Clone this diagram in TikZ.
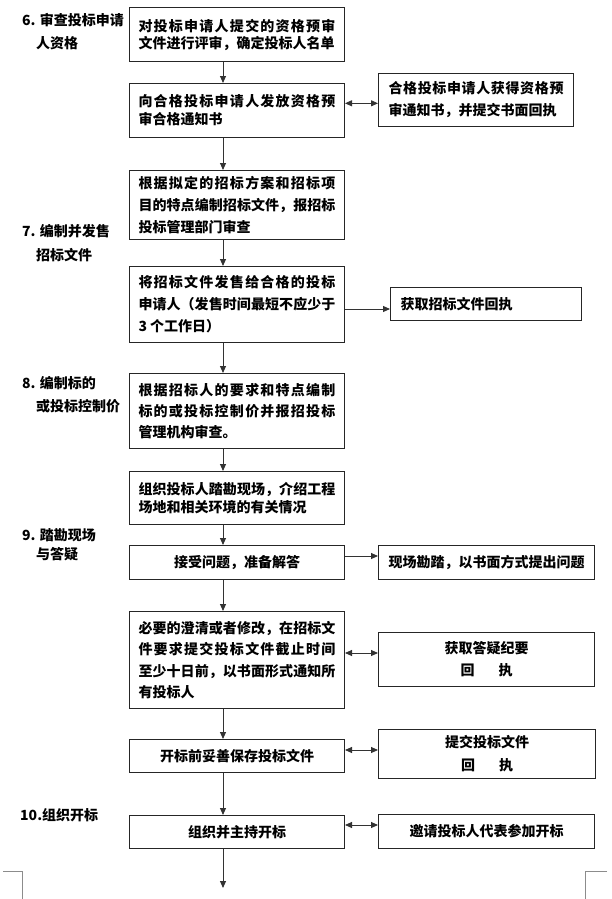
\documentclass[tikz,border=0pt]{standalone}
\usepackage{fontspec}
\setmainfont{Noto Sans CJK SC}
\usetikzlibrary{arrows.meta}
\XeTeXlinebreaklocale "zh"
\XeTeXlinebreakskip=0pt plus 3pt
\setlength\parindent{0pt}
\tikzset{
  mainbox/.style={draw=black!85, line width=1pt, anchor=north west, inner xsep=9pt, inner ysep=0pt,
    text width=197pt, align=justify, font=\bfseries\fontsize{14}{#1}\selectfont},
  mainbox/.default=21,
  mainc/.style={draw=black!85, line width=1pt, anchor=north west, inner sep=0pt,
    minimum width=215pt, align=center, font=\bfseries\fontsize{14}{16}\selectfont},
  sidebox/.style={draw=black!85, line width=1pt, anchor=north west, inner sep=0pt,
    align=center, font=\bfseries\fontsize{14}{#1}\selectfont},
  sidebox/.default=22,
  lab/.style={anchor=west, inner sep=0pt, font=\bfseries\fontsize{14}{16}\selectfont},
  arr/.style={draw=black!80, line width=0.9pt, -{Triangle[length=7pt,width=6pt]}},
  dbl/.style={draw=black!80, line width=0.9pt, {Triangle[length=7pt,width=6pt]}-{Triangle[length=7pt,width=6pt]}},
  cornermark/.style={draw=black!45, line width=0.8pt}
}
\begin{document}
\begin{tikzpicture}[x=1pt,y=-1pt]
\useasboundingbox (0,0) rectangle (612,899);

% main column
\node[mainbox=17, minimum height=54pt] (b1) at (129,7)
  {对投标申请人提交的资格预审\linebreak 文件进行评审，确定投标人名单};
\node[mainbox=18, minimum height=54pt] (b2) at (129,83)
  {向合格投标申请人发放资格预\linebreak 审合格通知书};
\node[mainbox=22, minimum height=69pt] (b3) at (129,170)
  {根据拟定的招标方案和招标项\linebreak 目的特点编制招标文件，报招标\linebreak 投标管理部门审查};
\node[mainbox=22, minimum height=76pt] (b4) at (129,266)
  {将招标文件发售给合格的投标\linebreak 申请人（发售时间最短不应少于\linebreak 3 个工作日）};
\node[mainbox=21, minimum height=75pt] (b5) at (129,373)
  {根据招标人的要求和特点编制\linebreak 标的或投标控制价并报招投标\linebreak 管理机构审查。};
\node[mainbox=18, minimum height=53pt] (b6) at (129,471)
  {组织投标人踏勘现场，介绍工程\linebreak 场地和相关环境的有关情况};
\node[mainc, minimum height=34pt] (b7) at (129,545) {接受问题，准备解答};
\node[mainbox=21.5, minimum height=97pt] (b8) at (129,611)
  {必要的澄清或者修改，在招标文\linebreak 件要求提交投标文件截止时间\linebreak 至少十日前，以书面形式通知所\linebreak 有投标人};
\node[mainc, minimum height=33pt] (b9) at (129,739) {开标前妥善保存投标文件};
\node[mainc, minimum height=33pt] (b10) at (129,815) {组织并主持开标};

% side boxes
\node[sidebox=22, inner xsep=10pt, text width=175pt, align=justify, minimum height=53pt] (rA) at (378,73)
  {\parfillskip=0pt 合格投标申请人获得资格预\linebreak 审通知书，并提交书面回执};
\node[sidebox, inner xsep=10pt, text width=171pt, align=left, minimum height=33pt] (rB) at (390,287)
  {获取招标文件回执};
\node[sidebox, minimum width=216pt, minimum height=34pt] (rC) at (378,545)
  {现场勘踏，以书面方式提出问题};
\node[sidebox=22, minimum width=216pt, minimum height=54pt] (rD) at (378,632)
  {获取答疑纪要\\回\hspace{24pt}执};
\node[sidebox=23, minimum width=217pt, minimum height=49pt] (rE) at (378,729)
  {提交投标文件\\回\hspace{24pt}执};
\node[sidebox, minimum width=216pt, minimum height=34pt] (rF) at (378,814)
  {邀请投标人代表参加开标};

% left labels
\node[lab] (l6a) at (22,20) {6. 审查投标申请};
\node[lab] (l6b) at (36,43) {人资格};
\node[lab] (l7a) at (22,231) {7. 编制并发售};
\node[lab] (l7b) at (36,255) {招标文件};
\node[lab] (l8a) at (22,383) {8. 编制标的};
\node[lab] (l8b) at (36,406) {或投标控制价};
\node[lab] (l9a) at (22,535) {9. 踏勘现场};
\node[lab] (l9b) at (36,554) {与答疑};
\node[lab] (l10) at (20,815) {10.组织开标};

% vertical arrows
\coordinate (ax) at (223,0);
\coordinate (endpt) at (223,888);
\draw[arr] (b1.south -| ax) -- (b2.north -| ax);
\draw[arr] (b2.south -| ax) -- (b3.north -| ax);
\draw[arr] (b3.south -| ax) -- (b4.north -| ax);
\draw[arr] (b4.south -| ax) -- (b5.north -| ax);
\draw[arr] (b5.south -| ax) -- (b6.north -| ax);
\draw[arr] (b6.south -| ax) -- (b7.north -| ax);
\draw[arr] (b7.south -| ax) -- (b8.north -| ax);
\draw[arr] (b8.south -| ax) -- (b9.north -| ax);
\draw[arr] (b9.south -| ax) -- (b10.north -| ax);
\draw[arr] (b10.south -| ax) -- (endpt);

% horizontal arrows
\coordinate (hA) at (0,103.3);
\coordinate (hB) at (0,309);
\coordinate (hC) at (0,556);
\coordinate (hD) at (0,653);
\coordinate (hE) at (0,750);
\coordinate (hF) at (0,825);
\draw[dbl] (b2.east |- hA) -- (rA.west |- hA);
\draw[arr] (b4.east |- hB) -- (rB.west |- hB);
\draw[arr] (b7.east |- hC) -- (rC.west |- hC);
\draw[dbl] (b8.east |- hD) -- (rD.west |- hD);
\draw[dbl] (b9.east |- hE) -- (rE.west |- hE);
\draw[dbl] (b10.east |- hF) -- (rF.west |- hF);

% page corner marks
\draw[cornermark] (3,871) -- (22,871) -- (22,899);
\draw[cornermark] (607,871) -- (585,871) -- (585,899);
\end{tikzpicture}
\end{document}
